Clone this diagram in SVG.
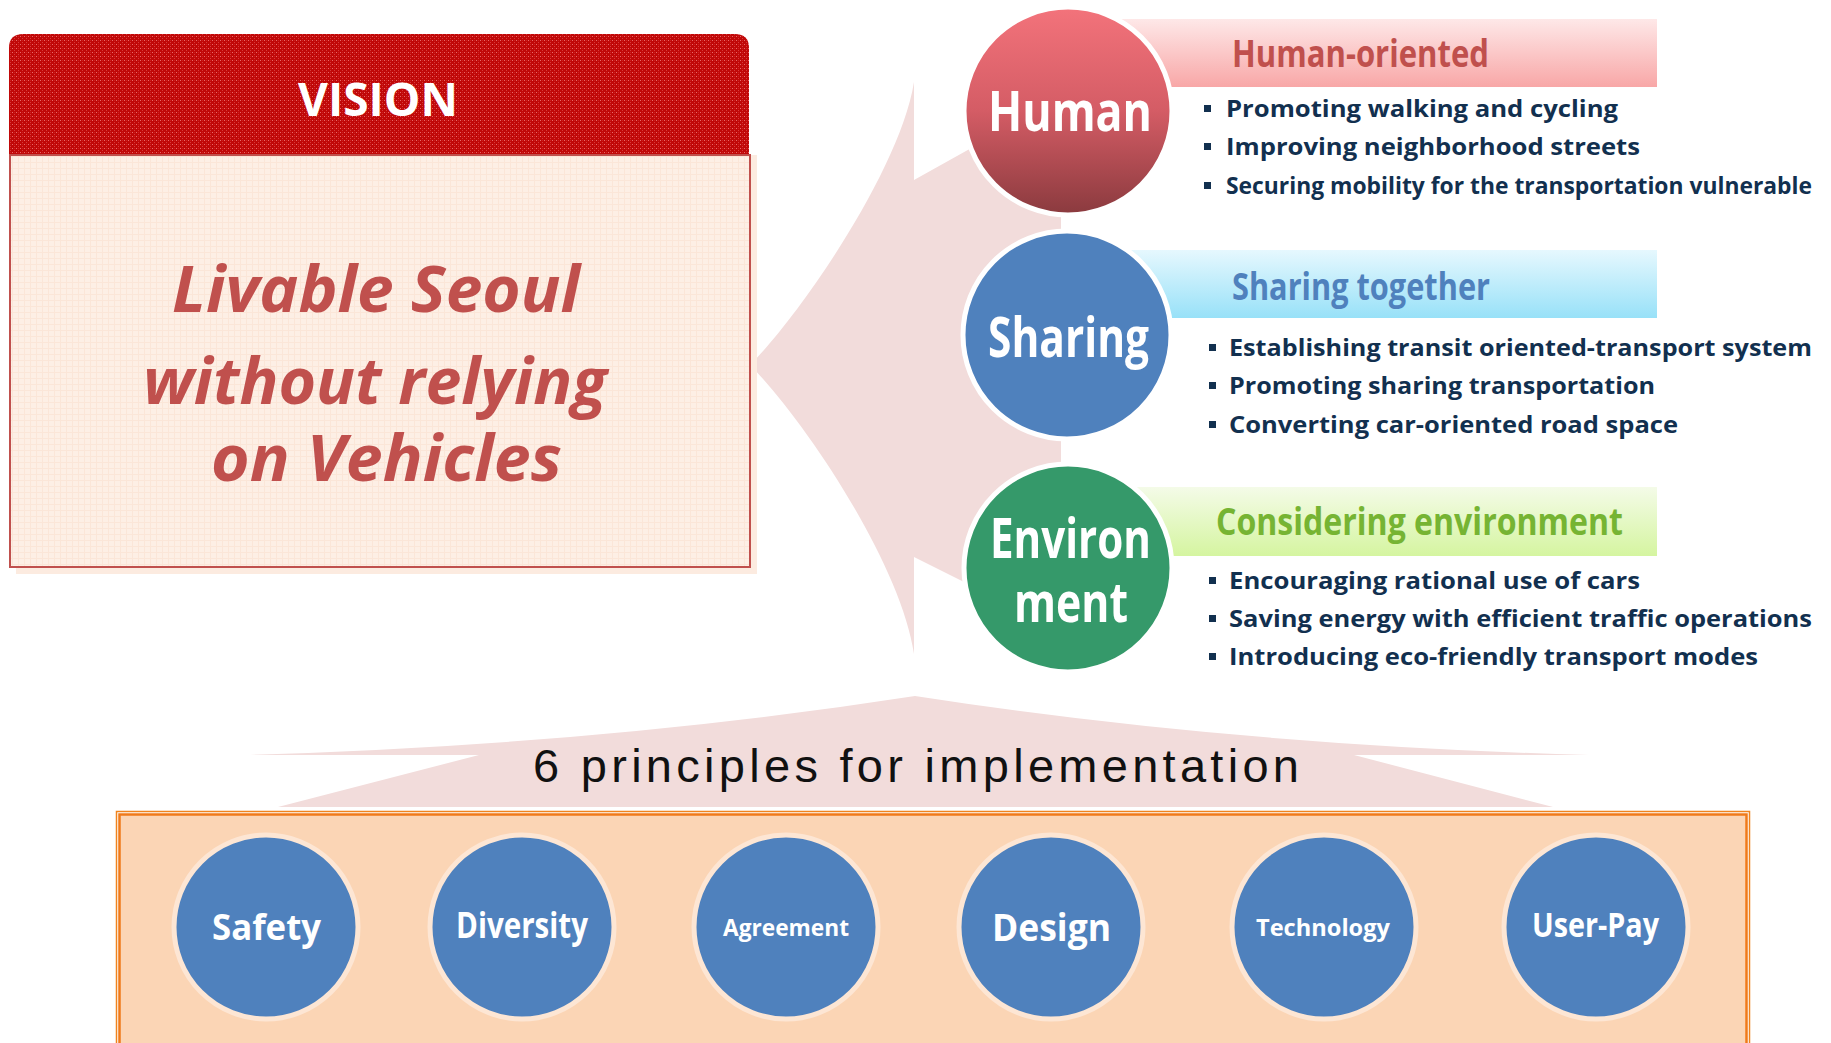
<svg xmlns="http://www.w3.org/2000/svg" width="1831" height="1043" viewBox="0 0 1831 1043">
  <defs>
    <pattern id="redWeave" width="4" height="4" patternUnits="userSpaceOnUse">
      <rect width="4" height="4" fill="#c00808"/>
      <rect x="0" y="0" width="1" height="1" fill="#e86868"/>
      <rect x="2" y="2" width="1" height="1" fill="#d83a3a"/>
      <rect x="2" y="0" width="1" height="1" fill="#cc2020"/>
    </pattern>
    <pattern id="peachGrid" width="6" height="6" patternUnits="userSpaceOnUse">
      <rect width="6" height="6" fill="#fdefe5"/>
      <rect x="0" y="0" width="6" height="1" fill="#fbe6d8"/>
      <rect x="0" y="0" width="1" height="6" fill="#fbe6d8"/>
    </pattern>
    <linearGradient id="gHuman" x1="0" y1="0" x2="0" y2="1">
      <stop offset="0" stop-color="#f3737b"/>
      <stop offset="0.5" stop-color="#d45c65"/>
      <stop offset="1" stop-color="#8a3a3e"/>
    </linearGradient>
    <linearGradient id="barRed" x1="0" y1="0" x2="0" y2="1">
      <stop offset="0" stop-color="#fee8e8"/>
      <stop offset="1" stop-color="#f8a7a7"/>
    </linearGradient>
    <linearGradient id="barBlue" x1="0" y1="0" x2="0" y2="1">
      <stop offset="0" stop-color="#e6f8fe"/>
      <stop offset="1" stop-color="#98e1f8"/>
    </linearGradient>
    <linearGradient id="barGreen" x1="0" y1="0" x2="0" y2="1">
      <stop offset="0" stop-color="#f4fbe8"/>
      <stop offset="1" stop-color="#d5f5a0"/>
    </linearGradient>
    <style>
      .sans { font-family: "Open Sans", "Noto Sans", "Liberation Sans", sans-serif; }
      .big { font-weight: 700; font-size: 56px; fill: #ffffff; }
      .head { font-weight: 700; font-size: 38px; }
      .item { font-weight: 700; font-size: 23px; fill: #12304f; }
      .dot { fill: #12304f; }
      .pr { fill: #4f81bd; stroke: #fde6d4; stroke-width: 5; }
      .prt { font-weight: 700; fill: #ffffff; }
      .vis { font-weight: 700; font-style: italic; font-size: 64px; fill: #c0504d; }
    </style>
  </defs>

  <rect width="1831" height="1043" fill="#ffffff"/>

  <!-- connectors: pale arrow shapes linking the vision, the three pillars and the principles -->
  <g id="connectors" fill="#f2dcdb">
    <path id="pillar-arrow" d="M 750 365 C 800 315, 900 170, 914 82 L 914 180 L 1000 132 L 1061 132 L 1061 600 L 1000 600 L 914 557 L 914 654 C 900 560, 800 415, 750 365 Z"/>
    <path id="principle-roof" d="M 915 696 Q 600 745, 244 755 L 479 755 L 278 807 L 1553 807 L 1354 755 L 1589 755 Q 1230 745, 915 696 Z"/>
  </g>

  <!-- vision card -->
  <g id="vision">
    <rect x="16" y="155" width="741" height="419" fill="#fcebe0"/>
    <path d="M 9 154 L 9 48 Q 9 34 23 34 L 735 34 Q 749 34 749 48 L 749 154 Z" fill="url(#redWeave)"/>
    <rect x="10" y="155" width="740" height="412" fill="url(#peachGrid)" stroke="#c0504d" stroke-width="2"/>
    <text class="sans" x="378" y="116" text-anchor="middle" font-weight="700" font-size="46" fill="#ffffff" textLength="160" lengthAdjust="spacingAndGlyphs">VISION</text>
    <text class="sans vis" x="172" y="312" textLength="408" lengthAdjust="spacingAndGlyphs">Livable Seoul</text>
    <text class="sans vis" x="143" y="404" textLength="464" lengthAdjust="spacingAndGlyphs">without relying</text>
    <text class="sans vis" x="211" y="481" textLength="351" lengthAdjust="spacingAndGlyphs">on Vehicles</text>
  </g>

  <!-- pillar: human -->
  <g id="pillar-human">
    <rect x="1090" y="19" width="567" height="68" fill="url(#barRed)"/>
    <circle cx="1068" cy="111" r="104" fill="url(#gHuman)" stroke="#ffffff" stroke-width="5"/>
    <text class="sans big" x="988" y="131" textLength="164" lengthAdjust="spacingAndGlyphs">Human</text>
    <text class="sans head" x="1232" y="67" fill="#c0504d" textLength="257" lengthAdjust="spacingAndGlyphs">Human-oriented</text>
    <rect class="dot" x="1204" y="105" width="7" height="7"/>
    <text class="sans item" x="1226" y="117" textLength="392" lengthAdjust="spacingAndGlyphs">Promoting walking and cycling</text>
    <rect class="dot" x="1204" y="143" width="7" height="7"/>
    <text class="sans item" x="1226" y="155" textLength="414" lengthAdjust="spacingAndGlyphs">Improving neighborhood streets</text>
    <rect class="dot" x="1204" y="182" width="7" height="7"/>
    <text class="sans item" x="1226" y="194" textLength="586" lengthAdjust="spacingAndGlyphs">Securing mobility for the transportation vulnerable</text>
  </g>

  <!-- pillar: sharing -->
  <g id="pillar-sharing">
    <rect x="1090" y="250" width="567" height="68" fill="url(#barBlue)"/>
    <circle cx="1067" cy="335" r="104" fill="#4f81bd" stroke="#ffffff" stroke-width="5"/>
    <text class="sans big" x="988" y="357" textLength="161" lengthAdjust="spacingAndGlyphs">Sharing</text>
    <text class="sans head" x="1232" y="300" fill="#4f81bd" textLength="258" lengthAdjust="spacingAndGlyphs">Sharing together</text>
    <rect class="dot" x="1209" y="344" width="7" height="7"/>
    <text class="sans item" x="1229" y="356" textLength="583" lengthAdjust="spacingAndGlyphs">Establishing transit oriented-transport system</text>
    <rect class="dot" x="1209" y="382" width="7" height="7"/>
    <text class="sans item" x="1229" y="394" textLength="426" lengthAdjust="spacingAndGlyphs">Promoting sharing transportation</text>
    <rect class="dot" x="1209" y="421" width="7" height="7"/>
    <text class="sans item" x="1229" y="433" textLength="449" lengthAdjust="spacingAndGlyphs">Converting car-oriented road space</text>
  </g>

  <!-- pillar: environment -->
  <g id="pillar-environment">
    <rect x="1090" y="487" width="567" height="69" fill="url(#barGreen)"/>
    <circle cx="1068" cy="568" r="104" fill="#35996a" stroke="#ffffff" stroke-width="5"/>
    <text class="sans big" x="990" y="558" font-size="54" textLength="161" lengthAdjust="spacingAndGlyphs">Environ</text>
    <text class="sans big" x="1014" y="622" font-size="54" textLength="114" lengthAdjust="spacingAndGlyphs">ment</text>
    <text class="sans head" x="1216" y="535" fill="#76b433" textLength="407" lengthAdjust="spacingAndGlyphs">Considering environment</text>
    <rect class="dot" x="1209" y="577" width="7" height="7"/>
    <text class="sans item" x="1229" y="589" textLength="411" lengthAdjust="spacingAndGlyphs">Encouraging rational use of cars</text>
    <rect class="dot" x="1209" y="615" width="7" height="7"/>
    <text class="sans item" x="1229" y="627" textLength="583" lengthAdjust="spacingAndGlyphs">Saving energy with efficient traffic operations</text>
    <rect class="dot" x="1209" y="653" width="7" height="7"/>
    <text class="sans item" x="1229" y="665" textLength="529" lengthAdjust="spacingAndGlyphs">Introducing eco-friendly transport modes</text>
  </g>

  <!-- implementation principles -->
  <g id="principles-label">
    <text x="533" y="782" font-family="Liberation Sans, Arial, sans-serif" font-size="47" fill="#111111" textLength="766" lengthAdjust="spacing">6 principles for implementation</text>
  </g>

  <g id="principles-panel">
    <rect x="116.5" y="811.5" width="1633" height="260" fill="none" stroke="#f0841e" stroke-width="1.5"/>
    <rect x="119.5" y="814.5" width="1627" height="260" fill="#fbd5b5" stroke="#f07a1a" stroke-width="2.5"/>
  </g>

  <g id="principle-safety">
    <circle class="pr" cx="266" cy="927" r="92"/>
    <text class="sans prt" x="212" y="940" font-size="35" textLength="109" lengthAdjust="spacingAndGlyphs">Safety</text>
  </g>
  <g id="principle-diversity">
    <circle class="pr" cx="522" cy="927" r="92"/>
    <text class="sans prt" x="456" y="938" font-size="35" textLength="132" lengthAdjust="spacingAndGlyphs">Diversity</text>
  </g>
  <g id="principle-agreement">
    <circle class="pr" cx="786" cy="927" r="92"/>
    <text class="sans prt" x="723" y="936" font-size="24" textLength="126" lengthAdjust="spacingAndGlyphs">Agreement</text>
  </g>
  <g id="principle-design">
    <circle class="pr" cx="1051" cy="927" r="92"/>
    <text class="sans prt" x="992" y="941" font-size="38" textLength="119" lengthAdjust="spacingAndGlyphs">Design</text>
  </g>
  <g id="principle-technology">
    <circle class="pr" cx="1324" cy="927" r="92"/>
    <text class="sans prt" x="1256" y="936" font-size="24" textLength="134" lengthAdjust="spacingAndGlyphs">Technology</text>
  </g>
  <g id="principle-userpay">
    <circle class="pr" cx="1596" cy="927" r="92"/>
    <text class="sans prt" x="1532" y="937" font-size="34" textLength="127" lengthAdjust="spacingAndGlyphs">User-Pay</text>
  </g>
</svg>
